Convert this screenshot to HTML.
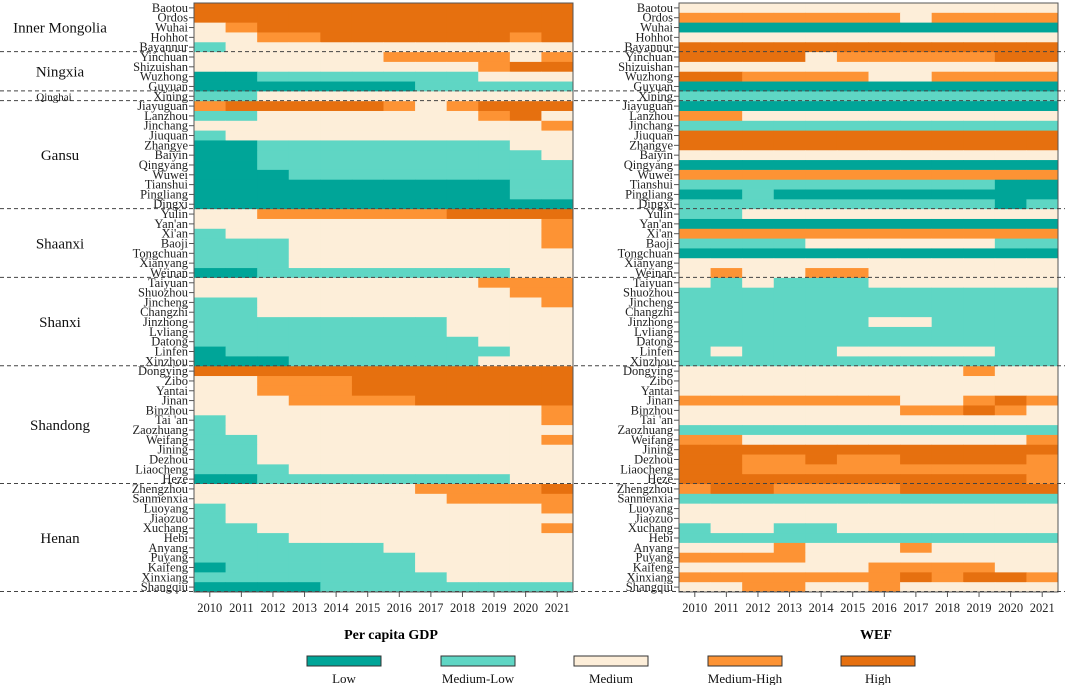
<!DOCTYPE html>
<html><head><meta charset="utf-8">
<style>
html,body{margin:0;padding:0;background:#fff;}
svg{display:block;font-family:"Liberation Serif",serif;}
</style></head>
<body>
<svg id="chart" width="1065" height="685" viewBox="0 0 1065 685" xmlns="http://www.w3.org/2000/svg"></svg>
<script>
const cities = ["Baotou","Ordos","Wuhai","Hohhot","Bayannur","Yinchuan","Shizuishan","Wuzhong","Guyuan","Xining","Jiayuguan","Lanzhou","Jinchang","Jiuquan","Zhangye","Baiyin","Qingyang","Wuwei","Tianshui","Pingliang","Dingxi","Yulin","Yan'an","Xi'an","Baoji","Tongchuan","Xianyang","Weinan","Taiyuan","Shuozhou","Jincheng","Changzhi","Jinzhong","Lvliang","Datong","Linfen","Xinzhou","Dongying","Zibo","Yantai","Jinan","Binzhou","Tai 'an","Zaozhuang","Weifang","Jining","Dezhou","Liaocheng","Heze","Zhengzhou","Sanmenxia","Luoyang","Jiaozuo","Xuchang","Hebi","Anyang","Puyang","Kaifeng","Xinxiang","Shangqiu"];
const years = ["2010","2011","2012","2013","2014","2015","2016","2017","2018","2019","2020","2021"];
const levels = ["Low","Medium-Low","Medium","Medium-High","High"];
const provinces = ["Inner Mongolia","Ningxia","Qinghai","Gansu","Shaanxi","Shanxi","Shandong","Henan"];
const provinceStart = [0,5,9,10,21,28,37,49];
const provinceEnd = [5,9,10,21,28,37,49,60];
const gdp = [
[4,4,4,4,4,4,4,4,4,4,4,4],
[4,4,4,4,4,4,4,4,4,4,4,4],
[2,3,4,4,4,4,4,4,4,4,4,4],
[2,2,3,3,4,4,4,4,4,4,3,4],
[1,2,2,2,2,2,2,2,2,2,2,2],
[2,2,2,2,2,2,3,3,3,3,2,3],
[2,2,2,2,2,2,2,2,2,3,4,4],
[0,0,1,1,1,1,1,1,1,2,2,2],
[0,0,0,0,0,0,0,1,1,1,1,1],
[1,1,2,2,2,2,2,2,2,2,2,2],
[3,4,4,4,4,4,3,2,3,4,4,4],
[1,1,2,2,2,2,2,2,2,3,4,2],
[2,2,2,2,2,2,2,2,2,2,2,3],
[1,2,2,2,2,2,2,2,2,2,2,2],
[0,0,1,1,1,1,1,1,1,1,2,2],
[0,0,1,1,1,1,1,1,1,1,1,2],
[0,0,1,1,1,1,1,1,1,1,1,1],
[0,0,0,1,1,1,1,1,1,1,1,1],
[0,0,0,0,0,0,0,0,0,0,1,1],
[0,0,0,0,0,0,0,0,0,0,1,1],
[0,0,0,0,0,0,0,0,0,0,0,0],
[2,2,3,3,3,3,3,3,4,4,4,4],
[2,2,2,2,2,2,2,2,2,2,2,3],
[1,2,2,2,2,2,2,2,2,2,2,3],
[1,1,1,2,2,2,2,2,2,2,2,3],
[1,1,1,2,2,2,2,2,2,2,2,2],
[1,1,1,2,2,2,2,2,2,2,2,2],
[0,0,1,1,1,1,1,1,1,1,2,2],
[2,2,2,2,2,2,2,2,2,3,3,3],
[2,2,2,2,2,2,2,2,2,2,3,3],
[1,1,2,2,2,2,2,2,2,2,2,3],
[1,1,2,2,2,2,2,2,2,2,2,2],
[1,1,1,1,1,1,1,1,2,2,2,2],
[1,1,1,1,1,1,1,1,2,2,2,2],
[1,1,1,1,1,1,1,1,1,2,2,2],
[0,1,1,1,1,1,1,1,1,1,2,2],
[0,0,0,1,1,1,1,1,1,2,2,2],
[4,4,4,4,4,4,4,4,4,4,4,4],
[2,2,3,3,3,4,4,4,4,4,4,4],
[2,2,3,3,3,4,4,4,4,4,4,4],
[2,2,2,3,3,3,3,4,4,4,4,4],
[2,2,2,2,2,2,2,2,2,2,2,3],
[1,2,2,2,2,2,2,2,2,2,2,3],
[1,2,2,2,2,2,2,2,2,2,2,2],
[1,1,2,2,2,2,2,2,2,2,2,3],
[1,1,2,2,2,2,2,2,2,2,2,2],
[1,1,2,2,2,2,2,2,2,2,2,2],
[1,1,1,2,2,2,2,2,2,2,2,2],
[0,0,1,1,1,1,1,1,1,1,2,2],
[2,2,2,2,2,2,2,3,3,3,3,4],
[2,2,2,2,2,2,2,2,3,3,3,3],
[1,2,2,2,2,2,2,2,2,2,2,3],
[1,2,2,2,2,2,2,2,2,2,2,2],
[1,1,2,2,2,2,2,2,2,2,2,3],
[1,1,1,2,2,2,2,2,2,2,2,2],
[1,1,1,1,1,1,2,2,2,2,2,2],
[1,1,1,1,1,1,1,2,2,2,2,2],
[0,1,1,1,1,1,1,2,2,2,2,2],
[1,1,1,1,1,1,1,1,2,2,2,2],
[0,0,0,0,1,1,1,1,1,1,1,1]
];
const wef = [
[2,2,2,2,2,2,2,2,2,2,2,2],
[3,3,3,3,3,3,3,2,3,3,3,3],
[0,0,0,0,0,0,0,0,0,0,0,0],
[2,2,2,2,2,2,2,2,2,2,2,2],
[4,4,4,4,4,4,4,4,4,4,4,4],
[4,4,4,4,2,3,3,3,3,3,4,4],
[2,2,2,2,2,2,2,2,2,2,2,2],
[4,4,3,3,3,3,2,2,3,3,3,3],
[0,0,0,0,0,0,0,0,0,0,0,0],
[1,1,1,1,1,1,1,1,1,1,1,1],
[0,0,0,0,0,0,0,0,0,0,0,0],
[3,3,2,2,2,2,2,2,2,2,2,2],
[1,1,1,1,1,1,1,1,1,1,1,1],
[4,4,4,4,4,4,4,4,4,4,4,4],
[4,4,4,4,4,4,4,4,4,4,4,4],
[2,2,2,2,2,2,2,2,2,2,2,2],
[0,0,0,0,0,0,0,0,0,0,0,0],
[3,3,3,3,3,3,3,3,3,3,3,3],
[1,1,1,1,1,1,1,1,1,1,0,0],
[0,0,1,0,0,0,0,0,0,0,0,0],
[1,1,1,1,1,1,1,1,1,1,0,1],
[1,1,2,2,2,2,2,2,2,2,2,2],
[0,0,0,0,0,0,0,0,0,0,0,0],
[3,3,3,3,3,3,3,3,3,3,3,3],
[1,1,1,1,2,2,2,2,2,2,1,1],
[0,0,0,0,0,0,0,0,0,0,0,0],
[2,2,2,2,2,2,2,2,2,2,2,2],
[2,3,2,2,3,3,2,2,2,2,2,2],
[2,1,2,1,1,1,2,2,2,2,2,2],
[1,1,1,1,1,1,1,1,1,1,1,1],
[1,1,1,1,1,1,1,1,1,1,1,1],
[1,1,1,1,1,1,1,1,1,1,1,1],
[1,1,1,1,1,1,2,2,1,1,1,1],
[1,1,1,1,1,1,1,1,1,1,1,1],
[1,1,1,1,1,1,1,1,1,1,1,1],
[1,2,1,1,1,2,2,2,2,2,1,1],
[1,1,1,1,1,1,1,1,1,1,1,1],
[2,2,2,2,2,2,2,2,2,3,2,2],
[2,2,2,2,2,2,2,2,2,2,2,2],
[2,2,2,2,2,2,2,2,2,2,2,2],
[3,3,3,3,3,3,3,2,2,3,4,3],
[2,2,2,2,2,2,2,3,3,4,3,2],
[2,2,2,2,2,2,2,2,2,2,2,2],
[1,1,1,1,1,1,1,1,1,1,1,1],
[3,3,2,2,2,2,2,2,2,2,2,3],
[4,4,4,4,4,4,4,4,4,4,4,4],
[4,4,3,3,4,3,3,4,4,4,4,3],
[4,4,3,3,3,3,3,3,3,3,3,3],
[4,4,4,4,4,4,4,4,4,4,4,3],
[3,4,4,3,3,3,3,4,4,4,4,4],
[1,1,1,1,1,1,1,1,1,1,1,1],
[2,2,2,2,2,2,2,2,2,2,2,2],
[2,2,2,2,2,2,2,2,2,2,2,2],
[1,2,2,1,1,2,2,2,2,2,2,2],
[1,1,1,1,1,1,1,1,1,1,1,1],
[2,2,2,3,2,2,2,3,2,2,2,2],
[3,3,3,3,2,2,2,2,2,2,2,2],
[2,2,2,2,2,2,3,3,3,3,2,2],
[3,3,3,3,3,3,3,4,3,4,4,3],
[2,2,3,3,2,2,3,2,2,2,2,2]
];
const colors = ["#00a598","#5fd6c4","#fdeed9","#fd9334","#e6700f"];

const NS = "http://www.w3.org/2000/svg";
const svg = document.getElementById("chart");
function mk(tag, attrs, parent){
  const e = document.createElementNS(NS, tag);
  for (const k in attrs) e.setAttribute(k, attrs[k]);
  (parent||svg).appendChild(e);
  return e;
}
const top0 = 3, bottom0 = 592;
const rowH = (bottom0 - top0) / cities.length;
function yScale(i){ return top0 + i * rowH; }

function drawPanel(data, x0, x1, title, titleX, key){
  const g = mk("g", {});
  
  
  const colW = (x1 - x0) / years.length;
  const xScale = j => x0 + j * colW;
  data.forEach((row, i) => {
    row.forEach((v, j) => {
      const r = mk("rect", {x: xScale(j), y: yScale(i), width: colW + 0.4, height: rowH + 0.4, fill: colors[v]}, g);
      
      
    });
  });
  const fr = mk("rect", {x: x0, y: top0, width: x1 - x0, height: bottom0 - top0, fill: "none", stroke: "#555", "stroke-width": 1}, g);
  
  
  cities.forEach((c, i) => {
    const yc = yScale(i) + rowH / 2;
    mk("line", {x1: x0 - 5, x2: x0, y1: yc, y2: yc, stroke: "#555", "stroke-width": 1}, g);
    const t = mk("text", {x: x0 - 6, y: yc + 4, "text-anchor": "end", "font-size": "12.5", fill: "#222"}, g);
    t.textContent = c;
    
    
  });
  years.forEach((yr, j) => {
    const xc = xScale(j) + colW / 2;
    mk("line", {x1: xc, x2: xc, y1: bottom0, y2: bottom0 + 5, stroke: "#555", "stroke-width": 1}, g);
    const t = mk("text", {x: xc, y: 612, "text-anchor": "middle", "font-size": "12.5", fill: "#222"}, g);
    t.textContent = yr;
    
    
  });
  const tt = mk("text", {x: titleX, y: 639, "text-anchor": "middle", "font-size": "14", "font-weight": "bold", fill: "#000"}, g);
  tt.textContent = title;
  
  
}
drawPanel(gdp, 194, 573, "Per capita GDP", 391, "gdp");
drawPanel(wef, 679, 1058, "WEF", 876, "wef");

provinceEnd.forEach((e, k) => {
  const y = yScale(e) - 0.5;
  const l = mk("line", {x1: 0, x2: 1065, y1: y, y2: y, stroke: "#444", "stroke-width": 1, "stroke-dasharray": "4,3"});
  
  
});
provinces.forEach((p, k) => {
  const yc = (yScale(provinceStart[k]) + yScale(provinceEnd[k])) / 2;
  const small = p === "Qinghai";
  const t = mk("text", {x: small ? 54 : 60, y: yc + (small ? 4 : 5), "text-anchor": "middle", "font-size": small ? "11" : "15", fill: "#111"});
  t.textContent = p;
  
  
});
const legendX = [307, 441, 574, 708, 841];
levels.forEach((lv, k) => {
  const r = mk("rect", {x: legendX[k], y: 656, width: 74, height: 10, fill: colors[k], stroke: "#333", "stroke-width": 1});
  
  
  const t = mk("text", {x: legendX[k] + 37, y: 683, "text-anchor": "middle", "font-size": "13", fill: "#111"});
  t.textContent = lv;
  
  
});
</script>
</body></html>
